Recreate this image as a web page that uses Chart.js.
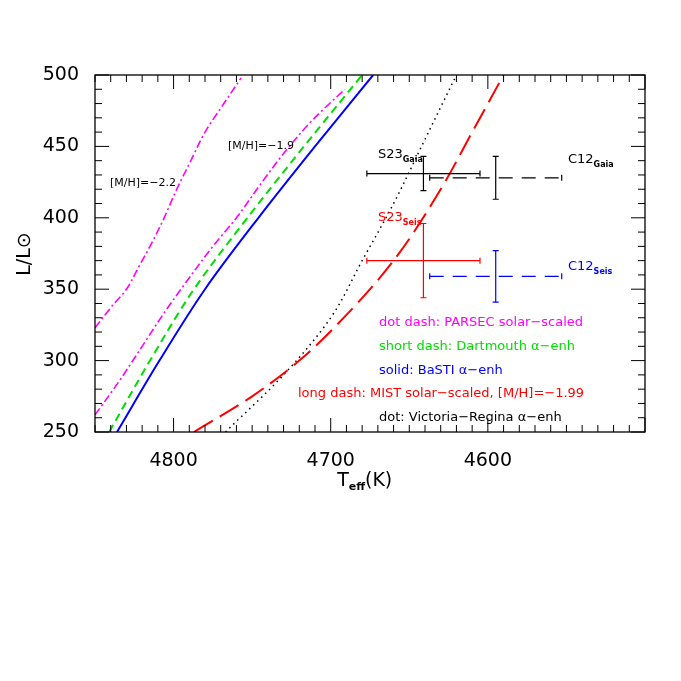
<!DOCTYPE html>
<html>
<head>
<meta charset="utf-8">
<script src="https://cdn.jsdelivr.net/npm/chart.js@4/dist/chart.umd.min.js"></script>
<style>
  body { margin: 0; background: #fff; }
  #wrap { width: 681px; height: 681px; }
</style>
</head>
<body>
<div id="wrap"><canvas id="hrd" width="681" height="681"></canvas></div>
<script>
// isochrones: [Teff, L]
const basti = [[4836, 250], [4809, 300], [4780, 350], [4746, 400], [4710, 450], [4673, 500]];
const dartmouth = [[4841, 250], [4815, 300], [4787, 350], [4753, 400], [4717, 450], [4680, 500]];
const parsec19 = [[4850, 262], [4835, 285], [4820, 310], [4805, 335], [4790, 358], [4775, 380], [4760, 400], [4745, 423], [4730, 445], [4712, 468], [4691, 490]];
const parsec22 = [[4850, 323], [4840, 337], [4830, 350], [4822, 366], [4815, 380], [4806, 400], [4798, 420], [4789, 440], [4780, 460], [4768, 480], [4757, 498]];
const mist = [[4787, 250], [4750, 275], [4720, 300], [4690, 332], [4660, 370], [4630, 420], [4610, 460], [4590, 500]];
const victoria = [[4767, 250], [4730, 290], [4700, 330], [4680, 370], [4660, 410], [4640, 455], [4620, 500]];

// stars: Teff, L, errT, errL
const starNames = ['S23Gaia', 'C12Gaia', 'S23Seis', 'C12Seis'];
const starT = [4641, 4595, 4641, 4595];
const starL = [431, 428, 370, 359];
const starErrT = [36, 42, 36, 42];
const starErrL = [12, 15, 26, 18];
const starColors = ['#000000', '#000000', '#ff0000', '#0000ff'];
const starDashed = [false, true, false, true];

const xTickLabels = [4800, 4700, 4600];
const yTickLabels = [250, 300, 350, 400, 450, 500];

const FONT = '"DejaVu Sans", sans-serif';

function line(data, color, dash, width) {
    return {
        type: 'line',
        data: data.map(p => ({ x: p[1], y: p[1] })).map((p, i) => ({ x: data[i][0], y: data[i][1] })),
        borderColor: color,
        borderDash: dash,
        borderWidth: width || 1.6,
        pointRadius: 0,
        cubicInterpolationMode: 'monotone',
        indexAxis: 'y',
        fill: false
    };
}

const overlay = {
    id: 'overlay',
    afterDatasetsDraw(chart) {
        const ctx = chart.ctx;
        const xs = chart.scales.x, ys = chart.scales.y;
        const a = chart.chartArea;
        ctx.save();
        ctx.beginPath();
        ctx.rect(a.left, a.top, a.right - a.left, a.bottom - a.top);
        ctx.clip();

        // error bars
        starT.forEach((t, i) => {
            const cx = xs.getPixelForValue(t), cy = ys.getPixelForValue(starL[i]);
            const x1 = xs.getPixelForValue(t + starErrT[i]), x2 = xs.getPixelForValue(t - starErrT[i]);
            const y1 = ys.getPixelForValue(starL[i] + starErrL[i]), y2 = ys.getPixelForValue(starL[i] - starErrL[i]);
            ctx.strokeStyle = starColors[i];
            ctx.lineWidth = 1.2;
            ctx.setLineDash(starDashed[i] ? [14, 9] : []);
            ctx.beginPath();
            ctx.moveTo(x1, cy); ctx.lineTo(x2, cy);
            ctx.stroke();
            ctx.setLineDash([]);
            ctx.beginPath();
            ctx.moveTo(cx, y1); ctx.lineTo(cx, y2);
            ctx.moveTo(x1, cy - 3); ctx.lineTo(x1, cy + 3);
            ctx.moveTo(x2, cy - 3); ctx.lineTo(x2, cy + 3);
            ctx.moveTo(cx - 3, y1); ctx.lineTo(cx + 3, y1);
            ctx.moveTo(cx - 3, y2); ctx.lineTo(cx + 3, y2);
            ctx.stroke();
        });
        ctx.restore();

        // inward ticks
        ctx.save();
        ctx.strokeStyle = '#000';
        ctx.lineWidth = 1;
        ctx.beginPath();
        for (let t = 4500; t <= 4850; t += 10) {
            const px = xs.getPixelForValue(t);
            const len = t % 100 === 0 ? 14 : 7;
            ctx.moveTo(px, a.bottom); ctx.lineTo(px, a.bottom - len);
            ctx.moveTo(px, a.top); ctx.lineTo(px, a.top + len);
        }
        for (let l = 250; l <= 500; l += 10) {
            const py = ys.getPixelForValue(l);
            const len = l % 50 === 0 ? 14 : 7;
            ctx.moveTo(a.left, py); ctx.lineTo(a.left + len, py);
            ctx.moveTo(a.right, py); ctx.lineTo(a.right - len, py);
        }
        ctx.stroke();
        ctx.lineWidth = 1.3;
        ctx.strokeRect(a.left, a.top, a.right - a.left, a.bottom - a.top);

        // labels with subscripts
        function sub(x, y, main, s, color, size) {
            ctx.fillStyle = color;
            ctx.textAlign = 'left';
            ctx.textBaseline = 'alphabetic';
            ctx.font = size + 'px ' + FONT;
            ctx.fillText(main, x, y);
            const w = ctx.measureText(main).width;
            ctx.font = 'bold ' + Math.round(size * 0.6) + 'px ' + FONT;
            ctx.fillText(s, x + w, y + 4);
        }
        sub(378, 158, 'S23', 'Gaia', '#000', 13);
        sub(568, 163, 'C12', 'Gaia', '#000', 13);
        sub(378, 221, 'S23', 'Seis', '#ff0000', 13);
        sub(568, 270, 'C12', 'Seis', '#0000ff', 13);

        ctx.font = '11px ' + FONT;
        ctx.fillStyle = '#000';
        ctx.fillText('[M/H]=\u22122.2', 110, 186);
        ctx.fillText('[M/H]=\u22121.9', 228, 149);

        const legend = [
            ['dot dash: PARSEC solar\u2212scaled', '#ff00ff', 379, 326],
            ['short dash: Dartmouth \u03b1\u2212enh', '#00dd00', 379, 350],
            ['solid: BaSTI \u03b1\u2212enh', '#0000ff', 379, 374],
            ['long dash: MIST solar\u2212scaled, [M/H]=\u22121.99', '#ff0000', 298, 397],
            ['dot: Victoria\u2212Regina \u03b1\u2212enh', '#000000', 379, 421]
        ];
        ctx.font = '13px ' + FONT;
        legend.forEach(l => { ctx.fillStyle = l[1]; ctx.fillText(l[0], l[2], l[3]); });

        // axis titles
        ctx.fillStyle = '#000';
        ctx.font = '19px ' + FONT;
        ctx.textAlign = 'center';
        ctx.fillText('T', 343, 486);
        ctx.font = 'bold 11px ' + FONT;
        ctx.fillText('eff', 357, 490);
        ctx.font = '19px ' + FONT;
        ctx.textAlign = 'left';
        ctx.fillText('(K)', 365, 486);

        ctx.translate(30, 254);
        ctx.rotate(-Math.PI / 2);
        ctx.textAlign = 'center';
        ctx.fillText('L/L\u2299', 0, 0);
        ctx.restore();
    }
};

new Chart(document.getElementById('hrd'), {
    type: 'scatter',
    data: {
        datasets: [
            line(parsec22, '#ff00ff', [8, 3, 2, 3]),
            line(parsec19, '#ff00ff', [8, 3, 2, 3]),
            line(dartmouth, '#00dd00', [8, 5], 2),
            line(basti, '#0000ff', [], 2),
            line(mist, '#ff0000', [22, 8], 2),
            line(victoria, '#000000', [1.5, 4], 1.5)
        ]
    },
    options: {
        responsive: false,
        animation: false,
        plugins: { legend: { display: false }, tooltip: { enabled: false } },
        layout: { padding: { top: 75, right: 36, left: 0, bottom: 0 } },
        scales: {
            x: {
                type: 'linear', reverse: true, min: 4500, max: 4850,
                afterBuildTicks: s => { s.ticks = xTickLabels.map(v => ({ value: v })); },
                afterFit: s => { s.height = 249; },
                grid: { display: false },
                border: { display: false },
                ticks: { color: '#000', font: { size: 19, family: FONT }, padding: 10, callback: v => String(v) }
            },
            y: {
                type: 'linear', min: 250, max: 500,
                afterBuildTicks: s => { s.ticks = yTickLabels.map(v => ({ value: v })); },
                afterFit: s => { s.width = 95; },
                grid: { display: false },
                border: { display: false },
                ticks: { color: '#000', font: { size: 19, family: FONT }, padding: 8, callback: v => String(v) }
            }
        }
    },
    plugins: [overlay]
});
</script>
</body>
</html>
